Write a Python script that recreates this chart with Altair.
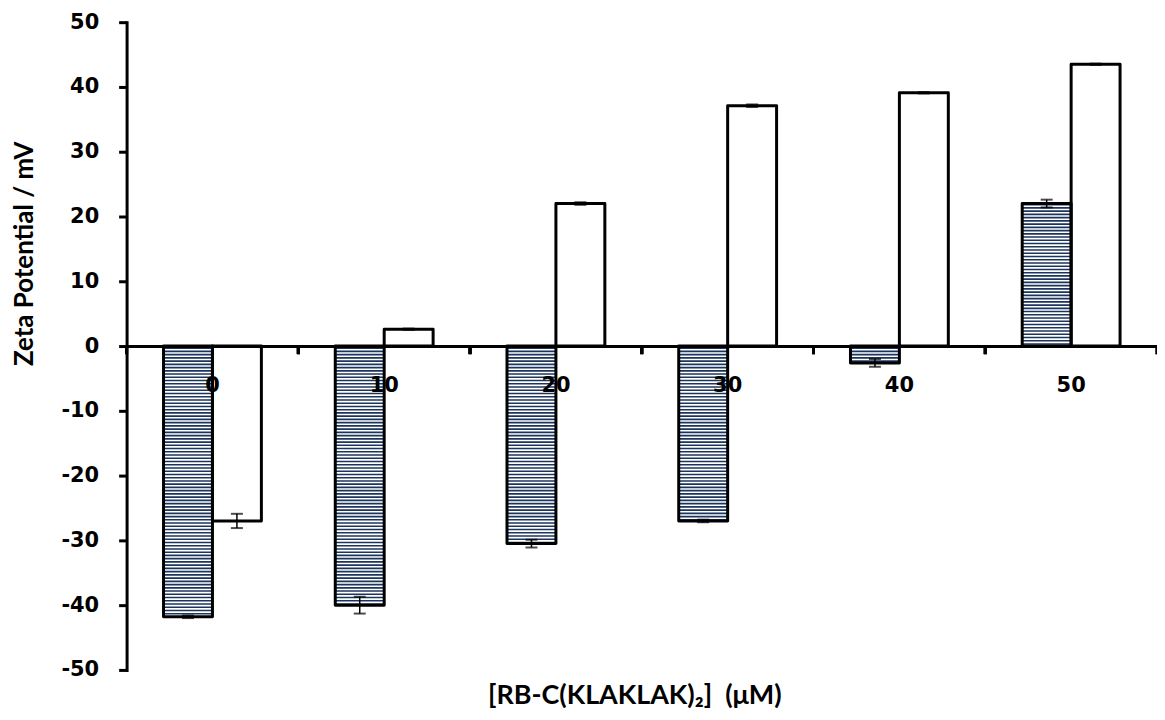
import altair as alt
import pandas as pd
import numpy as np

concentrations = ["0", "10", "20", "30", "40", "50"]
series = ["hatched", "open"]
hatched_values = [-41.8, -40.0, -30.5, -27.0, -2.6, 22.0]
hatched_errors = [0.2, 1.3, 0.6, 0.2, 0.6, 0.6]
open_values = [-27.0, 2.6, 22.0, 37.1, 39.1, 43.5]
open_errors = [1.1, 0.1, 0.2, 0.2, 0.1, 0.1]
y_ticks = [-50, -40, -30, -20, -10, 0, 10, 20, 30, 40, 50]

rows = []
for c, v, e in zip(concentrations, hatched_values, hatched_errors):
    rows.append(dict(conc=c, series="hatched", value=v, lo=v - e, hi=v + e))
for c, v, e in zip(concentrations, open_values, open_errors):
    rows.append(dict(conc=c, series="open", value=v, lo=v - e, hi=v + e))
df = pd.DataFrame(rows)

# horizontal hatch lines inside the hatched bars (decoration derived from the values)
stripe_rows = []
for c, v in zip(concentrations, hatched_values):
    sign = 1 if v > 0 else -1
    for s in np.arange(0.2, abs(v), 0.5):
        stripe_rows.append(dict(conc=c, series="hatched", y0=sign * s,
                                y1=sign * min(s + 0.25, abs(v))))
stripes = pd.DataFrame(stripe_rows)

W, H = 1034, 650

x_scale = alt.Scale(domain=concentrations, paddingInner=0, paddingOuter=0)
xo_scale = alt.Scale(domain=series, paddingInner=0, paddingOuter=0.755)
y_scale = alt.Scale(domain=[-50, 50], nice=False)

x_axis = alt.Axis(
    title=None, orient="bottom", offset=-H / 2, domain=True, domainWidth=3,
    domainColor="black", ticks=False, tickSize=0, labelAngle=0,
    labelFont="DejaVu Sans", labelFontWeight="bold", labelFontSize=21,
    labelColor="black", labelPadding=29, zindex=2, grid=False,
)
y_axis = alt.Axis(
    values=y_ticks, grid=False, domainWidth=3, domainColor="black",
    domainCap="square", tickWidth=3, tickColor="black", tickSize=8,
    labelFont="DejaVu Sans", labelFontWeight="bold", labelFontSize=21,
    labelColor="black", labelPadding=20, labelExpr="toString(datum.value)",
    title="Zeta Potential / mV", titleFont="Lato", titleFontSize=26,
    titleFontWeight="bold", titleColor="black", titleX=-102, titleY=232,
    titleAlign="center", titleBaseline="middle", titleAngle=-90, zindex=2,
)

X = alt.X("conc:N", scale=x_scale, axis=x_axis, sort=concentrations)
XO = alt.XOffset("series:N", scale=xo_scale)

base = alt.Chart(df)

bg = base.mark_bar(fill="white").encode(
    x=X, xOffset=XO,
    y=alt.Y("value:Q", scale=y_scale, axis=y_axis, stack=None),
)

hatch = alt.Chart(stripes).mark_bar(color="#1c355c").encode(
    x=X, xOffset=XO,
    y=alt.Y("y0:Q", scale=y_scale, axis=y_axis),
    y2="y1:Q",
)

outline = base.mark_bar(fill="transparent", stroke="black", strokeWidth=3,
                        strokeJoin="round").encode(
    x=X, xOffset=XO,
    y=alt.Y("value:Q", scale=y_scale, axis=y_axis, stack=None),
)

err = base.mark_rule(color="black", strokeWidth=1.5).encode(
    x=X, xOffset=XO,
    y=alt.Y("lo:Q", scale=y_scale, axis=y_axis),
    y2="hi:Q",
)
cap_lo = base.mark_tick(color="black", size=12, thickness=2).encode(
    x=X, xOffset=XO, y=alt.Y("lo:Q", scale=y_scale, axis=y_axis),
)
cap_hi = base.mark_tick(color="black", size=12, thickness=2).encode(
    x=X, xOffset=XO, y=alt.Y("hi:Q", scale=y_scale, axis=y_axis),
)

ticks_left = base.mark_rule(color="black", strokeWidth=3).encode(
    x=alt.X("conc:N", scale=x_scale, axis=x_axis, sort=concentrations, bandPosition=0),
    y=alt.YDatum(0, scale=y_scale, axis=y_axis),
    y2=alt.Y2Datum(-1.25),
)
ticks_right = base.mark_rule(color="black", strokeWidth=3).encode(
    x=alt.X("conc:N", scale=x_scale, axis=x_axis, sort=concentrations, bandPosition=1),
    y=alt.YDatum(0, scale=y_scale, axis=y_axis),
    y2=alt.Y2Datum(-1.25),
)

chart = alt.layer(bg, hatch, outline, err, cap_lo, cap_hi, ticks_left, ticks_right).properties(
    width=W, height=H,
    title=alt.TitleParams(
        text="[RB-C(KLAKLAK)\u2082] \u00a0(\u03bcM)", orient="bottom", anchor="middle",
        font="Lato", fontSize=27, fontWeight="bold", color="black",
        offset=3, dx=-7,
    ),
    autosize=alt.AutoSizeParams(type="none"),
    padding={"left": 119, "top": 13, "right": 0, "bottom": 40},
).configure_view(stroke=None)

chart.save("out.html", embed_options={"renderer": "svg", "actions": False})
